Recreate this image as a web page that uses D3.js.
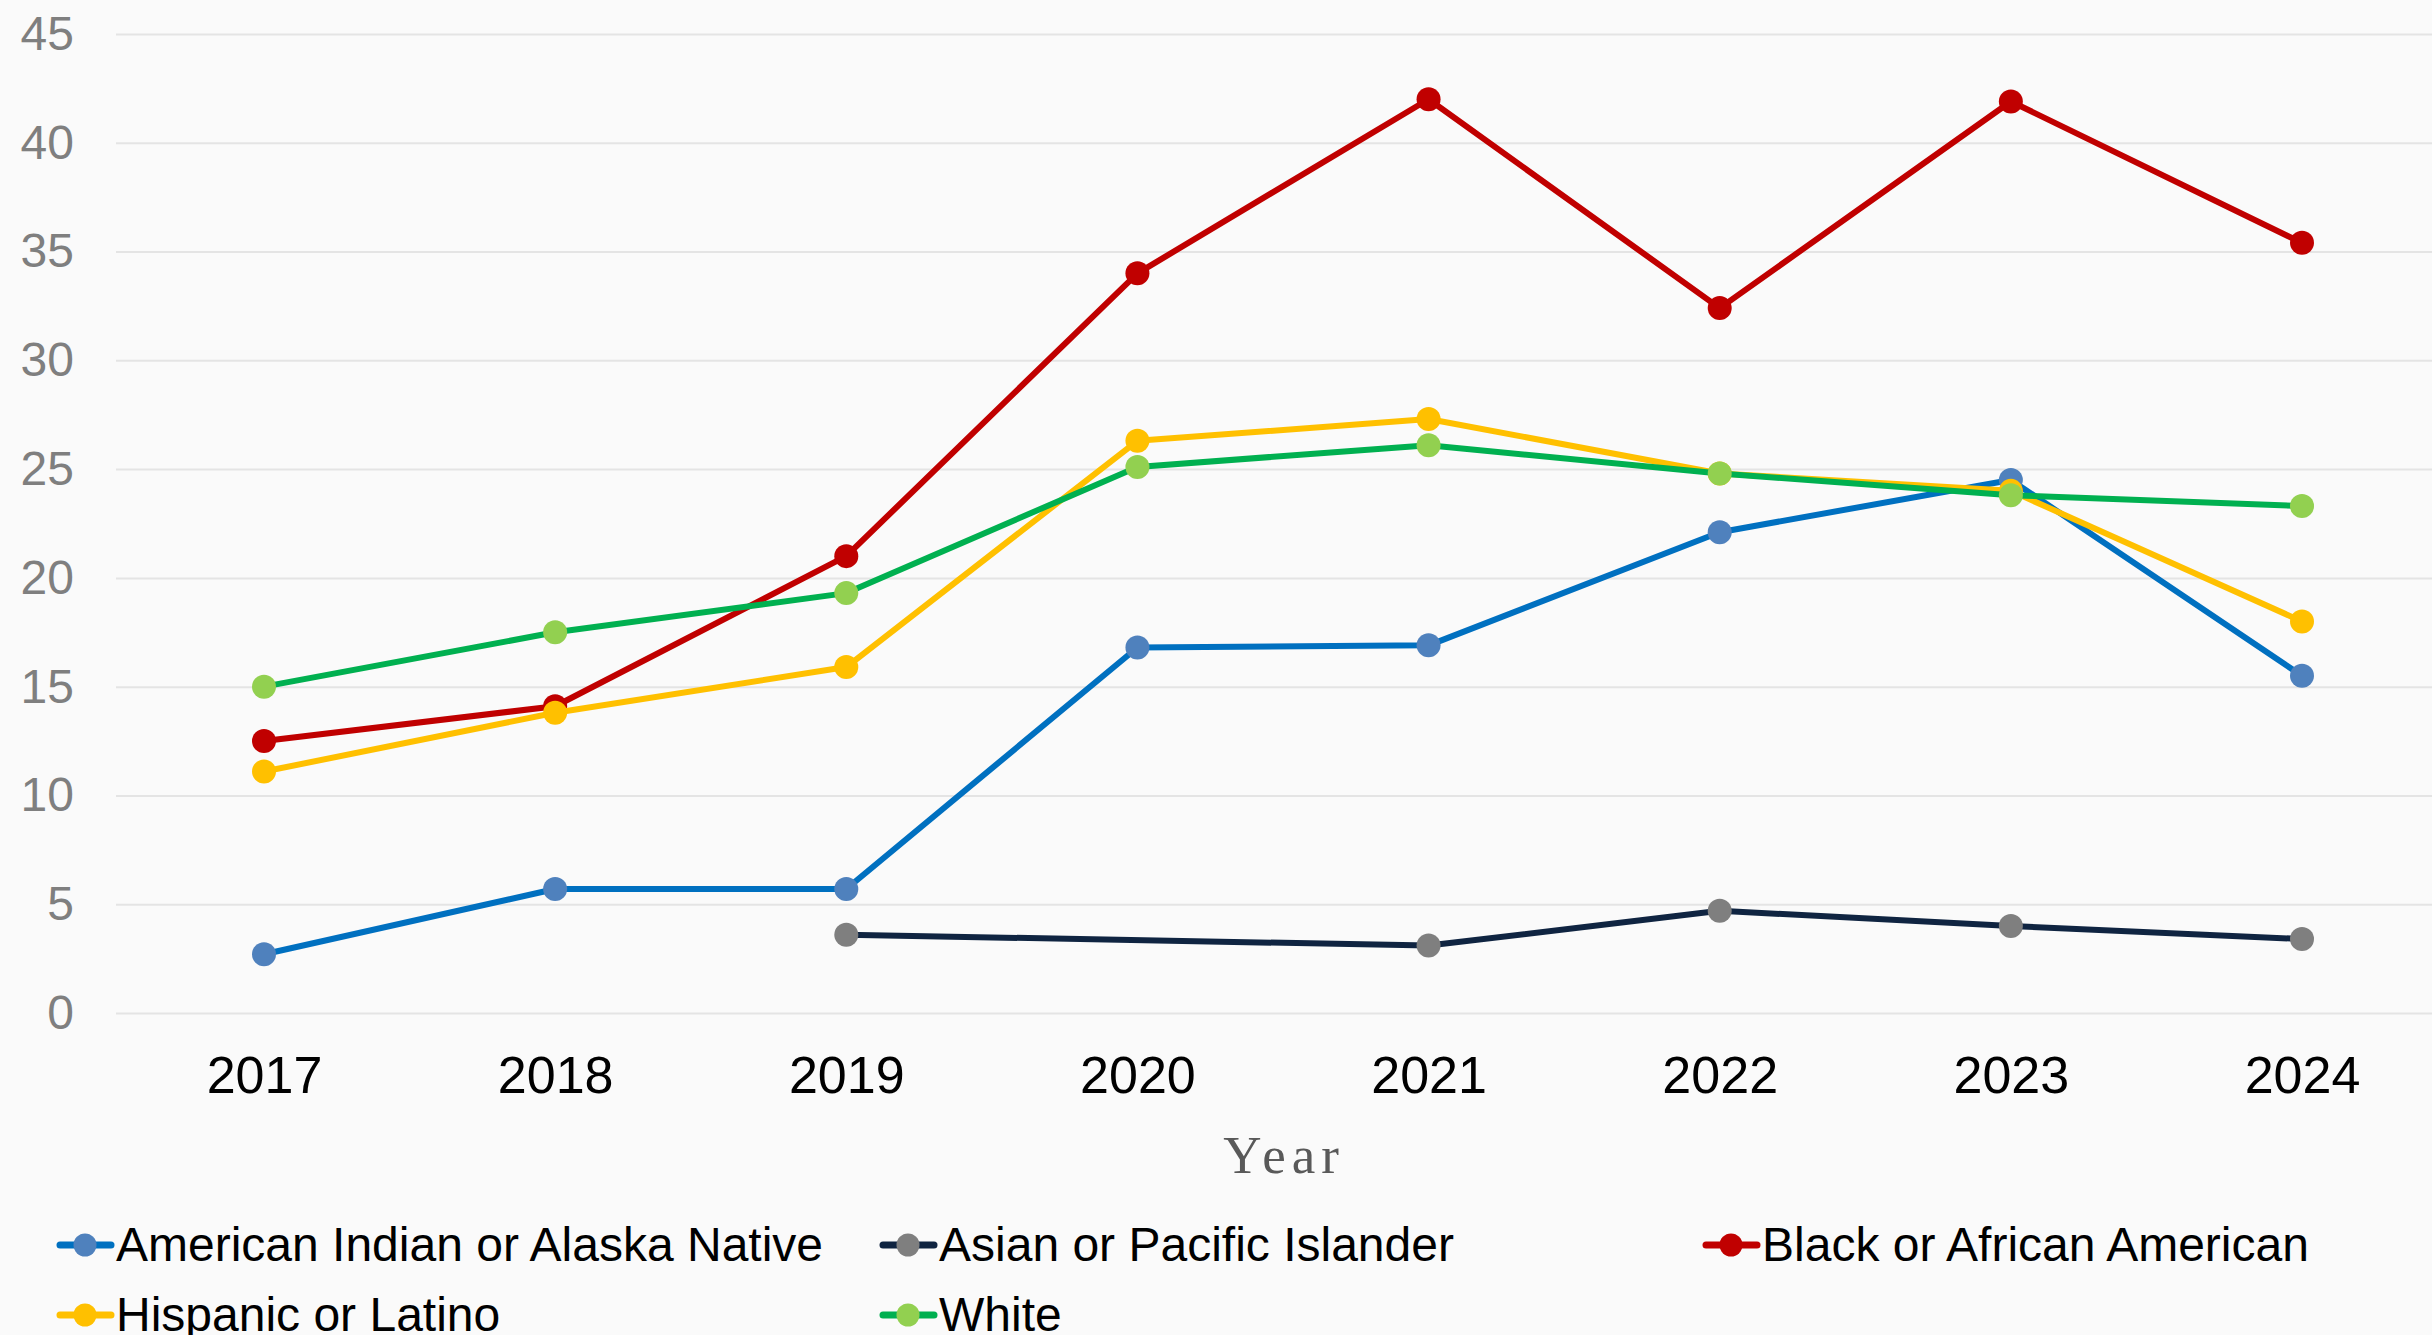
<!DOCTYPE html>
<html>
<head>
<meta charset="utf-8">
<script src="https://cdn.jsdelivr.net/npm/d3@7"></script>
<style>
  html, body { margin: 0; padding: 0; background: #fafafa; }
  svg { display: block; font-family: "Liberation Sans", Arial, sans-serif; }
</style>
</head>
<body>
<svg id="chart"></svg>
<script>
// Data
const years = ["2017", "2018", "2019", "2020", "2021", "2022", "2023", "2024"];
const yTicks = [0, 5, 10, 15, 20, 25, 30, 35, 40, 45];
const seriesNames = [
    "American Indian or Alaska Native",
    "Asian or Pacific Islander",
    "Black or African American",
    "Hispanic or Latino",
    "White"
];
const americanIndian = [2.7, 5.7, 5.7, 16.8, 16.9, 22.1, 24.5, 15.5];
const asianPacific = [null, null, 3.6, null, 3.1, 4.7, 4.0, 3.4];
const blackAfrican = [12.5, 14.1, 21.0, 34.0, 42.0, 32.4, 41.9, 35.4];
const hispanicLatino = [11.1, 13.8, 15.9, 26.3, 27.3, 24.8, 24.0, 18.0];
const white = [15.0, 17.5, 19.3, 25.1, 26.1, 24.8, 23.8, 23.3];

const lineColors = ["#0070c0", "#0f2441", "#c00000", "#ffc000", "#00b050"];
const markerColors = ["#4f81bd", "#7f7f7f", "#c00000", "#ffc000", "#92d050"];

const W = 2432, H = 1335;
const plot = { left: 116, right: 2432, top: 34, bottom: 1013 };

const svg = d3.select("#chart").attr("width", W).attr("height", H);

svg.append("rect").attr("width", W).attr("height", H).attr("fill", "#fafafa");

const x = d3.scalePoint().domain(years).range([264, 2302]);
const y = d3.scaleLinear().domain([0, 45]).range([plot.bottom, plot.top]);

// Y axis with gridlines
const yAxis = svg.append("g")
    .attr("transform", `translate(${plot.left},0)`)
    .call(d3.axisLeft(y).tickValues(yTicks)
        .tickSize(-(plot.right - plot.left)).tickPadding(42));
yAxis.select(".domain").remove();
yAxis.selectAll(".tick line").attr("stroke", "#e4e4e4").attr("stroke-width", 2);
yAxis.selectAll(".tick text")
    .attr("fill", "#7f7f7f")
    .style("font-size", "48px");

// X axis
const xAxis = svg.append("g")
    .attr("transform", `translate(0,${plot.bottom})`)
    .call(d3.axisBottom(x).tickSize(0));
xAxis.select(".domain").remove();
xAxis.selectAll(".tick text")
    .attr("y", 80).attr("dy", 0)
    .attr("fill", "#000")
    .style("font-size", "52px");

svg.append("text")
    .attr("x", 1284).attr("y", 1173)
    .attr("text-anchor", "middle")
    .attr("fill", "#595959")
    .style("font-family", "'Liberation Serif', 'Times New Roman', serif")
    .style("font-size", "53px")
    .style("letter-spacing", "6px")
    .text("Year");

// Series
const allSeries = [americanIndian, asianPacific, blackAfrican, hispanicLatino, white];
const series = allSeries.map((vals, i) => ({
    name: seriesNames[i],
    line: lineColors[i],
    marker: markerColors[i],
    points: vals.map((v, j) => ({ year: years[j], value: v })).filter(d => d.value !== null)
}));

const line = d3.line().x(d => x(d.year)).y(d => y(d.value));

series.forEach(s => {
    const g = svg.append("g");
    g.append("path")
        .datum(s.points)
        .attr("d", line)
        .attr("fill", "none")
        .attr("stroke", s.line)
        .attr("stroke-width", 6)
        .attr("stroke-linejoin", "round");
    g.selectAll("circle")
        .data(s.points)
        .enter().append("circle")
        .attr("cx", d => x(d.year))
        .attr("cy", d => y(d.value))
        .attr("r", 12)
        .attr("fill", s.marker);
});

// Legend
const legendPos = [[57, 1245], [880, 1245], [1703, 1245], [57, 1315], [880, 1315]];
const legend = svg.selectAll(".legend-item")
    .data(series)
    .enter().append("g")
    .attr("class", "legend-item")
    .attr("transform", (d, i) => `translate(${legendPos[i][0]},${legendPos[i][1]})`);

legend.append("line")
    .attr("x1", 3).attr("x2", 54)
    .attr("stroke", d => d.line)
    .attr("stroke-width", 7)
    .attr("stroke-linecap", "round");
legend.append("circle")
    .attr("cx", 28).attr("r", 11.5)
    .attr("fill", d => d.marker);
legend.append("text")
    .attr("x", 59).attr("y", 16)
    .attr("fill", "#000")
    .style("font-size", "48px")
    .text(d => d.name);
</script>
</body>
</html>
